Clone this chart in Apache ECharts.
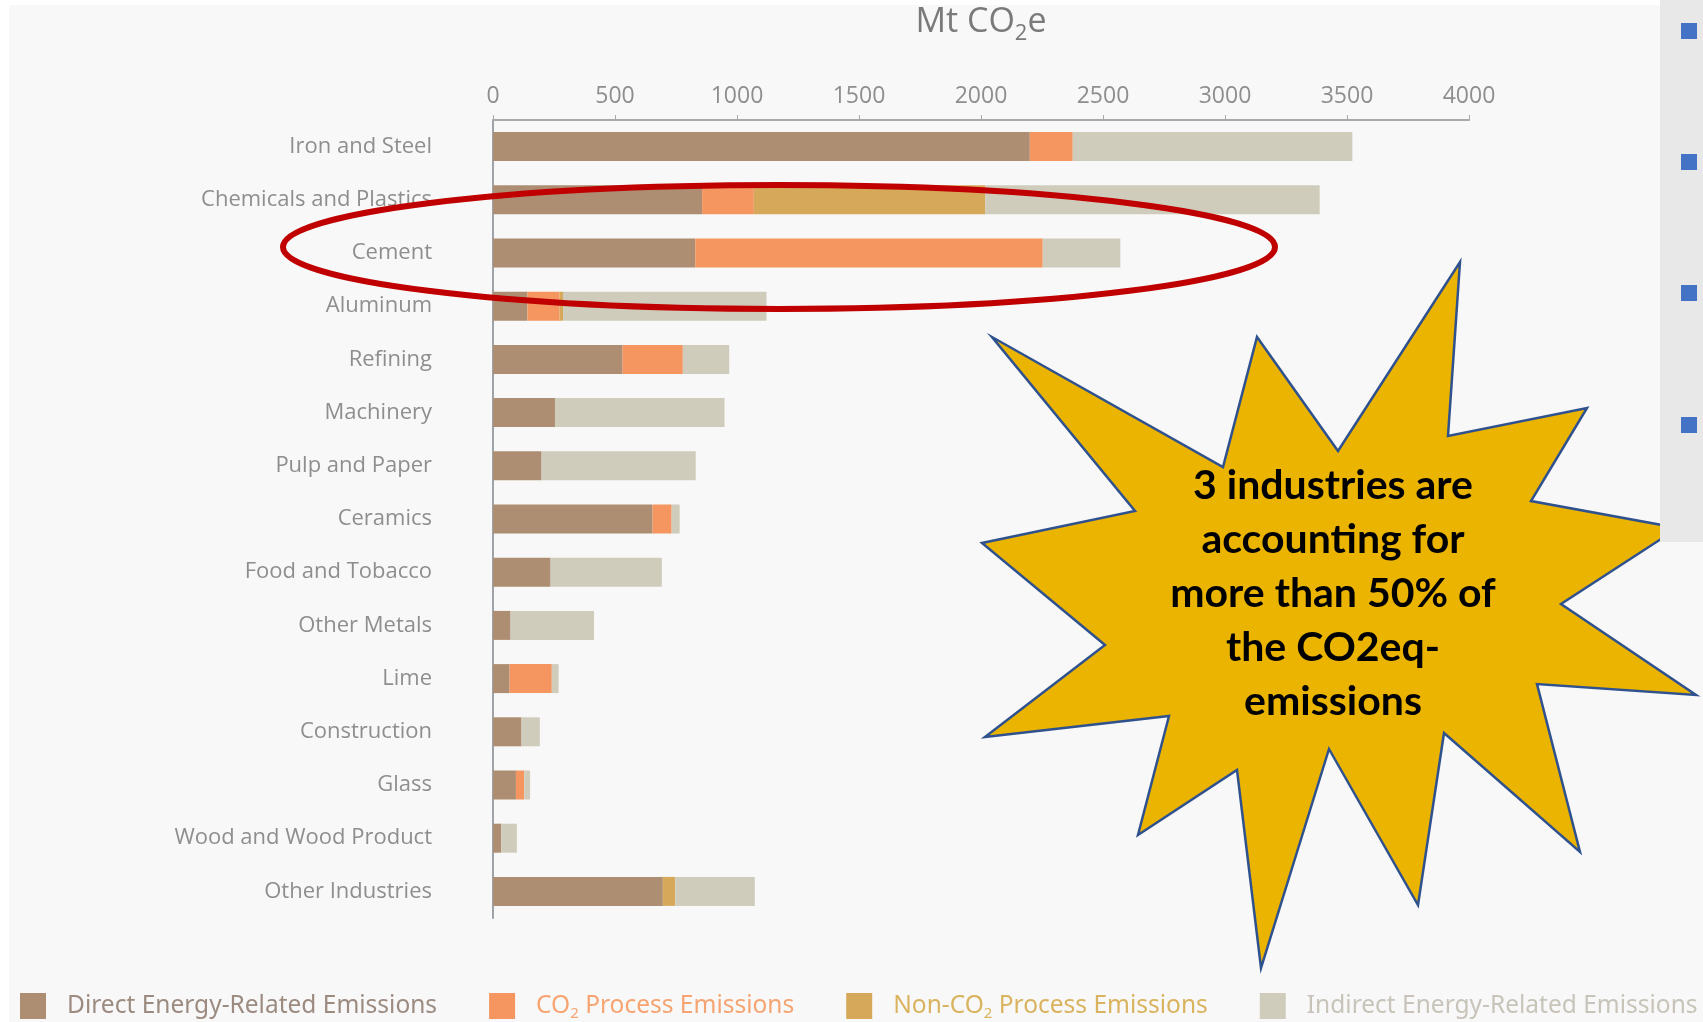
<!DOCTYPE html>
<html>
<head>
<meta charset="utf-8">
<title>Industry emissions</title>
<script src="https://cdn.jsdelivr.net/npm/echarts@6/dist/echarts.min.js"></script>
<style>
    html, body { margin: 0; padding: 0; background: #ffffff; }
    #main { width: 1703px; height: 1022px; }
</style>
</head>
<body>
<div id="main"></div>
<script>
// industries, top to bottom
var industries = ['Iron and Steel', 'Chemicals and Plastics', 'Cement', 'Aluminum', 'Refining',
    'Machinery', 'Pulp and Paper', 'Ceramics', 'Food and Tobacco', 'Other Metals', 'Lime',
    'Construction', 'Glass', 'Wood and Wood Product', 'Other Industries'];

// Mt CO2e per emission type
var directEnergy   = [2200, 857, 829, 141, 531, 254, 199, 654, 236, 72, 68, 117, 94, 34, 696];
var co2Process     = [176, 212, 1424, 132, 247, 0, 0, 78, 0, 0, 173, 0, 34, 0, 0];
var nonCo2Process  = [0, 949, 0, 14, 0, 0, 0, 0, 0, 0, 0, 0, 0, 0, 51];
var indirectEnergy = [1146, 1370, 318, 834, 190, 695, 632, 33, 456, 342, 28, 75, 24, 64, 326];

var axisTicks = [0, 4000, 500]; // min, max, interval

var seriesNames = ['Direct Energy-Related Emissions', 'CO2 Process Emissions',
    'Non-CO2 Process Emissions', 'Indirect Energy-Related Emissions'];
var barColors  = ['#ad8e73', '#f5955f', '#d6a95a', '#d0ccbc'];
var textColors = ['#9c8b80', '#f5a472', '#d9b35e', '#c8c4ba'];

var calloutLines = ['3 industries are', 'accounting for', 'more than 50% of', 'the CO2eq-', 'emissions'];

(function () {
    var chart = echarts.init(document.getElementById('main'));
    var values = [directEnergy, co2Process, nonCo2Process, indirectEnergy];

    var series = [];
    for (var i = 0; i < seriesNames.length; i++) {
        series.push({
            name: seriesNames[i],
            type: 'bar',
            stack: 'total',
            barWidth: 29,
            itemStyle: { color: barColors[i] },
            emphasis: { disabled: true },
            data: values[i]
        });
    }

    var legendData = seriesNames.map(function (n, i) {
        return { name: n, textStyle: { color: textColors[i] } };
    });

    // starburst outline
    var star = [[1460, 262], [1448, 436], [1587, 408], [1531, 501], [1678, 528], [1561, 604],
        [1696, 695], [1537, 684], [1580, 852], [1444, 733], [1418, 905], [1329, 749],
        [1261, 968], [1237, 770], [1138, 835], [1169, 716], [985, 737], [1105, 645],
        [982, 543], [1135, 511], [992, 337], [1223, 467], [1257, 337], [1338, 451]];

    var option = {
        backgroundColor: '#f8f8f8',
        animation: false,
        grid: {
            left: 493,
            top: 120,
            width: 976,
            height: 798,
            outerBoundsMode: 'none'
        },
        legend: {
            left: 15,
            top: 988,
            width: 2400,   // keep it on one line, it runs to the right edge
            itemWidth: 26,
            itemHeight: 26,
            itemGap: 52,
            icon: 'rect',
            selectedMode: false,
            data: legendData,
            formatter: function (name) {
                return name.replace('CO2', 'CO{sub|2}');
            },
            textStyle: {
                fontFamily: 'Noto Sans',
                fontSize: 24.5,
                padding: [0, 0, 0, 16],
                rich: {
                    sub: { fontSize: 15, padding: [16, 0, 0, 0] }
                }
            }
        },
        xAxis: {
            type: 'value',
            position: 'top',
            min: axisTicks[0],
            max: axisTicks[1],
            interval: axisTicks[2],
            name: 'Mt CO{sub|2}e',
            nameLocation: 'middle',
            nameGap: 75,
            nameTextStyle: {
                fontFamily: 'Open Sans',
                fontSize: 34,
                color: '#7a7a7a',
                rich: {
                    sub: { fontFamily: 'Open Sans', fontSize: 22, color: '#7a7a7a', padding: [24, 0, 0, 0] }
                }
            },
            axisLine: { show: true, lineStyle: { color: '#a9a9a9', width: 2 } },
            axisTick: { show: true, length: 5, lineStyle: { color: '#a9a9a9', width: 1 } },
            axisLabel: {
                margin: 12,
                fontFamily: 'Open Sans',
                fontSize: 23,
                color: '#8e8e8e',
                formatter: function (v) { return String(v); }
            },
            splitLine: { show: false }
        },
        yAxis: {
            type: 'category',
            inverse: true,
            data: industries,
            axisLine: { show: true, lineStyle: { color: '#9ea3aa', width: 2 } },
            axisTick: { show: false },
            axisLabel: {
                margin: 61,
                fontFamily: 'Open Sans',
                fontSize: 22,
                color: '#8e8e8e'
            }
        },
        series: series,
        graphic: [
            { type: 'rect', shape: { x: 0, y: 0, width: 1703, height: 5 }, style: { fill: '#ffffff' }, silent: true },
            { type: 'rect', shape: { x: 0, y: 0, width: 9, height: 1022 }, style: { fill: '#ffffff' }, silent: true },
            {
                type: 'ellipse',
                shape: { cx: 779, cy: 247, rx: 496, ry: 62 },
                style: { fill: 'none', stroke: '#c00000', lineWidth: 6 },
                z: 100, silent: true
            },
            {
                type: 'polygon',
                shape: { points: star },
                style: { fill: '#ebb400', stroke: '#2f528f', lineWidth: 2.5 },
                z: 100, silent: true
            },
            {
                type: 'text',
                x: 1333,
                y: 594,
                style: {
                    text: calloutLines.join('\n'),
                    font: 'bold 41px Lato',
                    lineHeight: 54,
                    fill: '#000000',
                    textAlign: 'center',
                    textVerticalAlign: 'middle'
                },
                z: 101, silent: true
            },
            // slide panel on the right
            { type: 'rect', shape: { x: 1660, y: 0, width: 43, height: 542 }, style: { fill: '#e8e8e8' }, z: 102, silent: true },
            { type: 'rect', shape: { x: 1681, y: 23, width: 16, height: 16 }, style: { fill: '#4472c4' }, z: 103, silent: true },
            { type: 'rect', shape: { x: 1681, y: 154, width: 16, height: 16 }, style: { fill: '#4472c4' }, z: 103, silent: true },
            { type: 'rect', shape: { x: 1681, y: 285, width: 16, height: 16 }, style: { fill: '#4472c4' }, z: 103, silent: true },
            { type: 'rect', shape: { x: 1681, y: 417, width: 16, height: 16 }, style: { fill: '#4472c4' }, z: 103, silent: true }
        ]
    };

    chart.setOption(option);
})();
</script>
</body>
</html>
